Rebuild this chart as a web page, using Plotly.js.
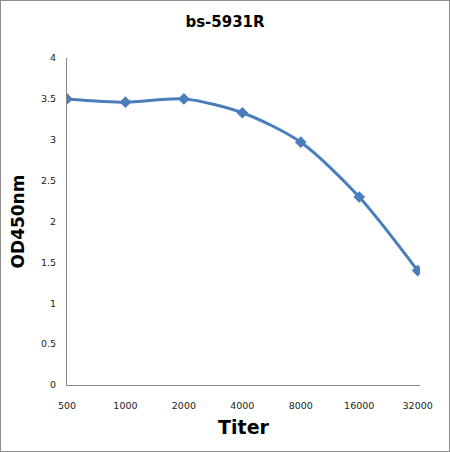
<!DOCTYPE html>
<html>
<head>
<meta charset="utf-8">
<script src="https://cdn.plot.ly/plotly-3.0.1.min.js"></script>
<style>
  body { margin: 0; padding: 0; background: #fff; }
  #frame { width: 448px; height: 450px; border: 1px solid #8c8c8c; }
</style>
</head>
<body>
<div id="frame"><div id="chart"></div></div>
<script>
// Titer dilutions and OD readings
const titers = ["500", "1000", "2000", "4000", "8000", "16000", "32000"];
const od450 = [3.50, 3.46, 3.50, 3.33, 2.97, 2.30, 1.40];
const yTicks = [0, 0.5, 1, 1.5, 2, 2.5, 3, 3.5, 4];

const lineColor = "#4a7ebb";

const trace = {
  x: titers,
  y: od450,
  type: "scatter",
  mode: "lines+markers",
  line: { color: lineColor, width: 3, shape: "spline", smoothing: 0.8 },
  marker: { color: lineColor, symbol: "diamond", size: 9 },
  hoverinfo: "x+y",
};

const layout = {
  width: 448,
  height: 450,
  margin: { t: 57, l: 66, r: 29, b: 66 },
  paper_bgcolor: "#ffffff",
  plot_bgcolor: "#ffffff",
  showlegend: false,
  title: {
    text: "<b>bs-5931R</b>",
    font: { family: "DejaVu Sans", size: 15, color: "#000" },
    x: 0.5,
    xanchor: "center",
    y: 0.965,
    yanchor: "top",
  },
  xaxis: {
    type: "category",
    range: [0, 6.04],
    showline: true,
    linecolor: "#868686",
    linewidth: 1,
    showgrid: false,
    zeroline: false,
    ticks: "",
    tickfont: { family: "DejaVu Sans", size: 9.5, color: "#222" },
    ticklabelstandoff: 12,
    title: {
      text: "<b>Titer</b>",
      font: { family: "DejaVu Sans", size: 19, color: "#000" },
      standoff: 10,
    },
  },
  yaxis: {
    range: [0, 4],
    tickvals: yTicks,
    ticktext: yTicks.map(String),
    showline: true,
    linecolor: "#868686",
    linewidth: 1,
    showgrid: false,
    zeroline: false,
    ticks: "",
    tickfont: { family: "DejaVu Sans", size: 9.5, color: "#222" },
    ticklabelstandoff: 8,
    title: {
      text: "<b>OD450nm</b>",
      font: { family: "DejaVu Sans", size: 17, color: "#000" },
      standoff: 12,
    },
  },
};

Plotly.newPlot("chart", [trace], layout, { displayModeBar: false, staticPlot: true });
</script>
</body>
</html>
